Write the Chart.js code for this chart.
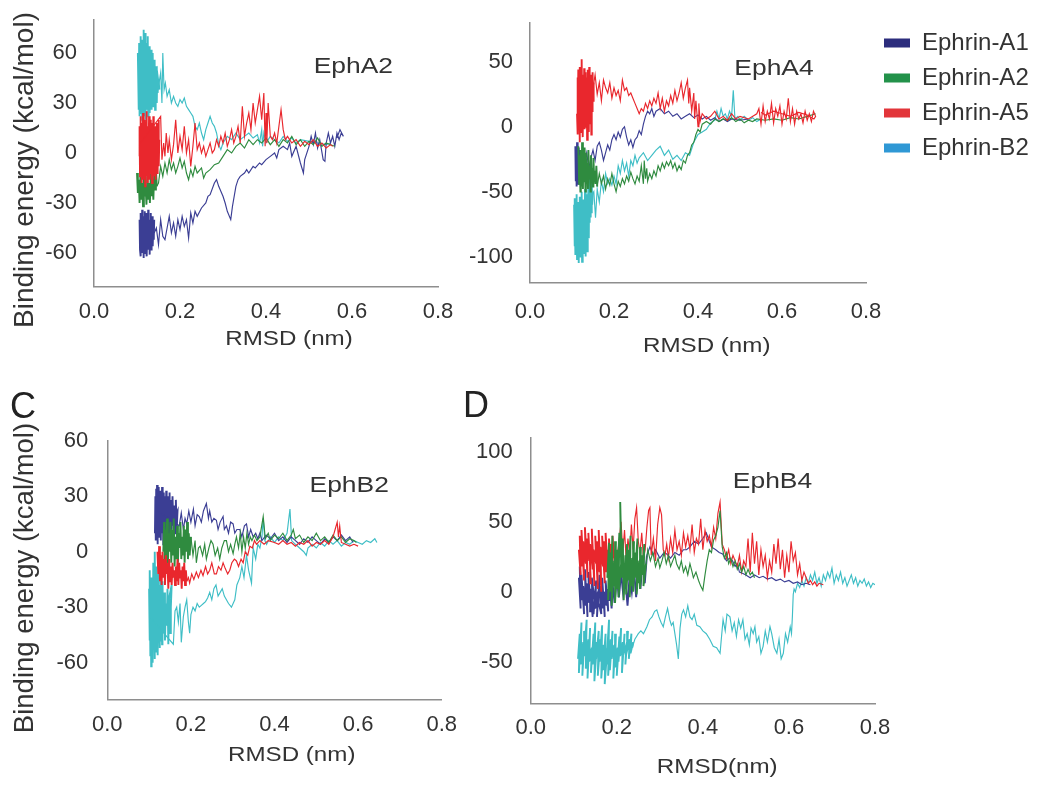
<!DOCTYPE html>
<html><head><meta charset="utf-8">
<script src="https://cdn.jsdelivr.net/npm/chart.js@4/dist/chart.umd.min.js"></script>
<style>
html,body{margin:0;padding:0;background:#fff;}
#fig{position:relative;width:1050px;height:787px;overflow:hidden;background:#fff;}
canvas{position:absolute;}
</style></head><body>
<div id="fig">
<canvas id="cA" width="480" height="400" style="left:0px;top:-30px"></canvas>
<canvas id="cB" width="610" height="400" style="left:440px;top:-30px"></canvas>
<canvas id="cC" width="480" height="427" style="left:0px;top:360px"></canvas>
<canvas id="cD" width="610" height="427" style="left:440px;top:360px"></canvas>
</div>
<script>
// ---------- categories / labels ----------
const panels = ['EphA2', 'EphA4', 'EphB2', 'EphB4'];
const ligands = ['Ephrin-A1', 'Ephrin-A2', 'Ephrin-A5', 'Ephrin-B2'];
const rmsdTicks = [0, 0.2, 0.4, 0.6, 0.8];
const energyTicksA2 = [-60, -30, 0, 30, 60];
const energyTicksA4 = [-100, -50, 0, 50];
const energyTicksB2 = [-60, -30, 0, 30, 60];
const energyTicksB4 = [-50, 0, 50, 100];

// ---------- series: [RMSD (nm), binding energy (kcal/mol)] ----------
// "core" = dense equilibrium cloud, "path" = dissociation trail
// EphA2
const EphA2_A1_core = [[0.106,-40],[0.107,-58],[0.108,-36],[0.109,-62],[0.11,-44],[0.111,-56],[0.112,-34],[0.113,-60],[0.114,-46],[0.115,-63],[0.116,-38],[0.117,-54],[0.118,-35],[0.119,-60],[0.12,-42],[0.121,-57],[0.122,-36],[0.123,-62],[0.124,-48],[0.125,-58],[0.126,-34],[0.127,-55],[0.128,-40],[0.129,-61],[0.13,-44],[0.131,-52],[0.132,-36],[0.133,-58],[0.134,-42],[0.135,-50],[0.136,-38],[0.137,-56],[0.138,-44],[0.139,-52],[0.14,-40],[0.136,-48],[0.128,-50],[0.12,-48],[0.112,-50],[0.118,-46],[0.126,-46],[0.134,-46],[0.14,-48]];
const EphA2_A1_path = [[0.145,-45],[0.15,-55],[0.155,-40],[0.16,-50],[0.165,-52],[0.17,-45],[0.175,-38],[0.18,-48],[0.185,-42],[0.19,-50],[0.195,-40],[0.2,-46],[0.205,-38],[0.21,-44],[0.215,-40],[0.22,-51],[0.225,-36],[0.23,-42],[0.235,-35],[0.24,-38],[0.25,-33],[0.26,-30],[0.265,-26],[0.27,-25],[0.28,-18],[0.285,-16],[0.29,-20],[0.3,-26],[0.305,-30],[0.31,-35],[0.318,-40],[0.322,-32],[0.33,-20],[0.335,-16],[0.34,-14],[0.35,-12],[0.355,-10],[0.36,-12],[0.37,-8],[0.375,-9],[0.385,-6],[0.39,-7],[0.4,-4],[0.41,-2],[0.42,0],[0.425,-3],[0.43,2],[0.44,4],[0.45,2],[0.455,6],[0.46,-2],[0.47,4],[0.48,-6],[0.487,-12],[0.49,-4],[0.5,4],[0.505,10],[0.51,5],[0.515,12],[0.52,3],[0.525,8],[0.533,-4],[0.537,-5],[0.54,6],[0.545,12],[0.55,6],[0.555,10],[0.56,4],[0.565,12],[0.57,8],[0.575,12],[0.58,10],[0.572,14],[0.565,9]];
const EphA2_A2_core = [[0.1,-12],[0.102,-24],[0.104,-16],[0.106,-30],[0.108,-14],[0.11,-28],[0.112,-18],[0.114,-32],[0.116,-15],[0.118,-26],[0.12,-20],[0.122,-31],[0.124,-14],[0.126,-28],[0.128,-18],[0.13,-30],[0.132,-12],[0.134,-26],[0.136,-16],[0.138,-28],[0.14,-12],[0.142,-22],[0.144,-10],[0.146,-20]];
const EphA2_A2_path = [[0.15,-18],[0.155,-8],[0.16,-14],[0.165,-6],[0.17,-12],[0.175,-4],[0.18,-10],[0.185,-6],[0.19,-12],[0.195,-8],[0.2,-3],[0.205,-9],[0.21,-5],[0.215,-12],[0.22,-16],[0.225,-10],[0.23,-14],[0.235,-8],[0.24,-12],[0.25,-9],[0.255,-15],[0.26,-12],[0.27,-10],[0.28,-7],[0.29,-6],[0.3,-2],[0.31,2],[0.32,0],[0.33,4],[0.34,6],[0.35,3],[0.36,8],[0.37,5],[0.38,8],[0.39,6],[0.4,9],[0.41,5],[0.42,8],[0.43,4],[0.44,8],[0.45,6],[0.46,10],[0.47,5],[0.48,8],[0.49,4],[0.5,7],[0.51,5],[0.52,9],[0.53,4],[0.54,6],[0.55,5],[0.56,4]];
const EphA2_A5_core = [[0.105,-2],[0.106,16],[0.107,-14],[0.108,22],[0.109,-8],[0.11,18],[0.111,-18],[0.112,12],[0.113,-4],[0.114,24],[0.115,-16],[0.116,14],[0.117,-10],[0.118,20],[0.119,-20],[0.12,10],[0.121,-6],[0.122,25],[0.123,-14],[0.124,16],[0.125,-18],[0.126,8],[0.127,-8],[0.128,22],[0.129,-16],[0.13,14],[0.131,-4],[0.132,20],[0.133,-12],[0.134,12],[0.135,-18],[0.136,18],[0.137,-6],[0.138,22],[0.139,-14],[0.14,10],[0.141,-10],[0.142,16],[0.143,-16],[0.144,6],[0.145,-6],[0.146,18],[0.147,-12],[0.148,12],[0.149,-4],[0.15,20],[0.151,-8],[0.152,8],[0.146,0],[0.138,4],[0.13,-2],[0.122,2],[0.114,0],[0.108,6]];
const EphA2_A5_path = [[0.155,22],[0.158,-4],[0.162,6],[0.165,-2],[0.168,12],[0.172,0],[0.175,8],[0.18,-4],[0.185,5],[0.19,20],[0.195,0],[0.2,10],[0.205,2],[0.21,16],[0.215,0],[0.22,8],[0.225,-8],[0.23,4],[0.235,18],[0.24,2],[0.245,6],[0.25,0],[0.255,4],[0.26,-2],[0.265,2],[0.27,6],[0.275,0],[0.28,2],[0.285,8],[0.29,4],[0.295,10],[0.3,6],[0.305,12],[0.31,4],[0.315,8],[0.32,14],[0.325,6],[0.33,10],[0.335,16],[0.34,6],[0.345,28],[0.35,10],[0.355,18],[0.36,24],[0.365,14],[0.37,30],[0.375,18],[0.38,26],[0.385,34],[0.39,20],[0.395,36],[0.398,4],[0.4,24],[0.402,6],[0.405,30],[0.41,10],[0.415,8],[0.42,12],[0.425,6],[0.43,16],[0.435,26],[0.44,14],[0.445,8],[0.45,10],[0.46,6],[0.47,8],[0.48,4],[0.49,7],[0.5,5],[0.51,8],[0.52,4],[0.53,6],[0.54,3],[0.55,5],[0.555,4]];
const EphA2_B2_core = [[0.102,60],[0.104,26],[0.105,66],[0.106,22],[0.107,58],[0.108,30],[0.109,70],[0.11,24],[0.111,62],[0.112,20],[0.113,68],[0.114,28],[0.115,74],[0.116,22],[0.117,64],[0.118,30],[0.119,72],[0.12,20],[0.121,60],[0.122,26],[0.123,66],[0.124,32],[0.125,70],[0.126,22],[0.127,58],[0.128,28],[0.129,64],[0.13,24],[0.131,56],[0.132,30],[0.133,62],[0.134,26],[0.135,54],[0.136,34],[0.137,60],[0.138,28],[0.139,50],[0.14,32],[0.141,56],[0.142,26],[0.143,48],[0.144,34],[0.145,52],[0.146,30],[0.147,46],[0.148,36],[0.15,44],[0.152,38],[0.146,50],[0.138,44],[0.13,48],[0.122,40],[0.114,46],[0.106,42],[0.11,52],[0.118,36],[0.126,44],[0.134,38],[0.142,42],[0.15,40]];
const EphA2_B2_path = [[0.155,48],[0.158,30],[0.16,60],[0.163,38],[0.166,42],[0.17,34],[0.175,38],[0.18,30],[0.185,34],[0.19,30],[0.195,28],[0.2,32],[0.205,30],[0.21,33],[0.215,28],[0.22,26],[0.225,24],[0.23,22],[0.235,16],[0.24,14],[0.245,18],[0.25,12],[0.255,8],[0.26,14],[0.265,18],[0.27,22],[0.275,18],[0.28,16],[0.285,12],[0.29,5],[0.295,2],[0.3,6],[0.31,10],[0.32,8],[0.33,12],[0.34,8],[0.35,10],[0.36,12],[0.37,9],[0.38,11],[0.385,6],[0.39,14],[0.392,4],[0.395,12],[0.4,6],[0.41,10],[0.42,8],[0.43,6],[0.44,10],[0.45,7],[0.46,9],[0.47,6],[0.48,8],[0.5,7],[0.52,6],[0.54,5],[0.55,6]];

// EphA4
const EphA4_A1_core = [[0.108,-15],[0.109,-42],[0.11,-20],[0.111,-46],[0.112,-12],[0.113,-38],[0.114,-24],[0.115,-44],[0.116,-16],[0.117,-40],[0.118,-26],[0.119,-44],[0.12,-18],[0.121,-36],[0.122,-28],[0.123,-42],[0.124,-22],[0.125,-34],[0.126,-30]];
const EphA4_A1_path = [[0.13,-28],[0.135,-20],[0.14,-32],[0.145,-24],[0.15,-18],[0.155,-26],[0.16,-15],[0.165,-12],[0.17,-18],[0.175,-26],[0.18,-20],[0.185,-14],[0.19,-18],[0.195,-10],[0.2,-6],[0.205,-10],[0.21,-4],[0.215,-8],[0.22,-2],[0.225,0],[0.23,-8],[0.235,-14],[0.24,-10],[0.245,-16],[0.25,-10],[0.255,-8],[0.26,-3],[0.265,-6],[0.27,2],[0.275,8],[0.28,12],[0.285,10],[0.29,14],[0.295,8],[0.3,12],[0.31,14],[0.32,10],[0.33,12],[0.34,8],[0.35,10],[0.36,6],[0.37,8],[0.38,10],[0.39,7],[0.4,9],[0.41,6],[0.42,8],[0.43,5],[0.44,7],[0.45,4],[0.46,6],[0.47,4],[0.48,6],[0.5,5],[0.52,6]];
const EphA4_A2_core = [[0.115,-15],[0.117,-44],[0.118,-22],[0.12,-50],[0.121,-18],[0.123,-46],[0.124,-12],[0.126,-48],[0.127,-24],[0.129,-42],[0.13,-16],[0.132,-50],[0.133,-20],[0.135,-44],[0.136,-28],[0.138,-48],[0.139,-18],[0.141,-40],[0.142,-30],[0.144,-50],[0.145,-22],[0.147,-38],[0.148,-32],[0.15,-46],[0.151,-24],[0.153,-42],[0.154,-34],[0.156,-44],[0.158,-30],[0.16,-46]];
const EphA4_A2_path = [[0.165,-36],[0.17,-44],[0.175,-38],[0.18,-48],[0.185,-40],[0.19,-45],[0.195,-36],[0.2,-44],[0.205,-50],[0.21,-42],[0.215,-46],[0.22,-40],[0.225,-44],[0.23,-38],[0.235,-42],[0.24,-35],[0.245,-40],[0.25,-44],[0.255,-38],[0.26,-42],[0.265,-30],[0.27,-44],[0.272,-26],[0.275,-40],[0.278,-32],[0.28,-42],[0.285,-36],[0.29,-40],[0.295,-34],[0.3,-38],[0.305,-30],[0.31,-34],[0.315,-28],[0.32,-32],[0.325,-27],[0.33,-30],[0.335,-26],[0.34,-32],[0.345,-28],[0.35,-34],[0.355,-30],[0.36,-33],[0.365,-26],[0.37,-28],[0.375,-22],[0.38,-20],[0.385,-14],[0.39,-12],[0.395,-6],[0.4,-2],[0.405,-4],[0.41,2],[0.42,4],[0.43,2],[0.44,6],[0.45,4],[0.46,6],[0.47,5],[0.48,7],[0.49,4],[0.5,6],[0.51,3],[0.52,5],[0.53,4],[0.54,6],[0.56,5],[0.58,6],[0.6,5],[0.62,7],[0.64,6],[0.66,8],[0.68,10]];
const EphA4_A5_core = [[0.112,10],[0.113,38],[0.114,-6],[0.115,44],[0.116,2],[0.117,30],[0.118,-12],[0.119,46],[0.12,6],[0.121,36],[0.122,-4],[0.123,52],[0.124,12],[0.125,40],[0.126,-8],[0.127,34],[0.128,8],[0.129,45],[0.13,-2],[0.131,28],[0.132,14],[0.133,42],[0.134,0],[0.135,38],[0.136,-10],[0.137,44],[0.138,10],[0.139,32],[0.14,-4],[0.141,46],[0.142,16],[0.143,36],[0.144,2],[0.145,40],[0.146,-6],[0.147,30],[0.148,12],[0.149,42],[0.15,20],[0.151,34],[0.152,24],[0.146,20],[0.138,26],[0.13,18],[0.122,24],[0.116,18],[0.124,28],[0.132,22],[0.14,30],[0.15,30]];
const EphA4_A5_path = [[0.155,40],[0.16,25],[0.165,34],[0.17,20],[0.175,36],[0.18,30],[0.185,26],[0.19,34],[0.195,22],[0.2,30],[0.205,24],[0.21,28],[0.215,20],[0.22,36],[0.225,28],[0.23,30],[0.235,24],[0.24,26],[0.245,22],[0.25,18],[0.255,14],[0.26,10],[0.265,14],[0.27,12],[0.275,18],[0.28,14],[0.285,20],[0.29,16],[0.295,22],[0.3,18],[0.305,26],[0.31,14],[0.315,22],[0.32,12],[0.325,20],[0.33,16],[0.335,24],[0.34,18],[0.345,28],[0.35,20],[0.355,26],[0.36,34],[0.365,22],[0.37,30],[0.375,36],[0.378,18],[0.38,30],[0.385,12],[0.39,26],[0.392,6],[0.395,20],[0.4,0],[0.402,18],[0.405,4],[0.41,10],[0.42,6],[0.43,8],[0.44,12],[0.45,6],[0.46,8],[0.47,5],[0.48,10],[0.49,6],[0.5,8],[0.52,6],[0.54,10],[0.545,14],[0.55,2],[0.555,16],[0.56,4],[0.565,12],[0.57,6],[0.575,18],[0.58,3],[0.585,14],[0.59,8],[0.595,16],[0.6,2],[0.605,12],[0.61,6],[0.615,22],[0.62,4],[0.625,14],[0.63,2],[0.635,12],[0.64,6],[0.645,10],[0.65,3],[0.655,12],[0.66,5],[0.665,10],[0.67,4],[0.675,12],[0.68,8],[0.676,6],[0.66,9],[0.64,11],[0.62,8],[0.6,10],[0.58,12],[0.56,9],[0.55,11]];
const EphA4_B2_core = [[0.105,-60],[0.106,-92],[0.107,-55],[0.108,-98],[0.109,-66],[0.11,-88],[0.111,-52],[0.112,-102],[0.113,-62],[0.114,-94],[0.115,-58],[0.116,-105],[0.117,-70],[0.118,-86],[0.119,-54],[0.12,-100],[0.121,-64],[0.122,-90],[0.123,-50],[0.124,-104],[0.125,-68],[0.126,-84],[0.127,-56],[0.128,-98],[0.129,-62],[0.13,-92],[0.131,-48],[0.132,-100],[0.133,-66],[0.134,-88],[0.135,-52],[0.136,-96],[0.137,-60],[0.138,-80],[0.139,-44],[0.14,-86],[0.141,-40],[0.142,-74],[0.143,-36],[0.144,-70],[0.145,-30],[0.146,-66],[0.147,-40],[0.148,-60],[0.15,-50],[0.142,-60],[0.134,-76],[0.126,-74],[0.118,-78],[0.11,-76],[0.114,-70],[0.122,-72],[0.13,-80],[0.138,-70],[0.146,-54]];
const EphA4_B2_path = [[0.152,-50],[0.156,-70],[0.16,-48],[0.165,-58],[0.17,-42],[0.175,-50],[0.18,-36],[0.185,-44],[0.19,-40],[0.195,-45],[0.2,-38],[0.205,-44],[0.21,-30],[0.215,-36],[0.22,-26],[0.225,-34],[0.23,-28],[0.235,-38],[0.24,-26],[0.245,-30],[0.25,-22],[0.255,-28],[0.26,-24],[0.27,-20],[0.28,-26],[0.29,-22],[0.3,-18],[0.31,-15],[0.32,-22],[0.33,-18],[0.34,-25],[0.35,-22],[0.36,-26],[0.37,-20],[0.38,-22],[0.39,-12],[0.4,-6],[0.41,-4],[0.42,-2],[0.43,3],[0.44,5],[0.445,12],[0.45,6],[0.455,14],[0.46,8],[0.465,10],[0.47,6],[0.475,12],[0.48,8],[0.484,28],[0.488,6],[0.495,8],[0.5,5],[0.51,8],[0.52,5],[0.53,7],[0.54,4],[0.55,6]];

// EphB2
const EphB2_A1_core = [[0.114,10],[0.115,30],[0.116,6],[0.117,34],[0.118,12],[0.119,36],[0.12,4],[0.121,28],[0.122,16],[0.123,35],[0.124,8],[0.125,26],[0.126,18],[0.127,33],[0.128,6],[0.129,30],[0.13,14],[0.131,35],[0.132,10],[0.133,24],[0.134,4],[0.135,32],[0.136,16],[0.137,30],[0.138,8],[0.139,22],[0.14,12],[0.141,33],[0.142,6],[0.143,28],[0.144,14],[0.145,30],[0.146,8],[0.147,26],[0.148,14],[0.149,32],[0.15,10],[0.152,28],[0.154,12],[0.156,30],[0.158,14],[0.16,25],[0.162,10],[0.164,28],[0.166,12],[0.168,22],[0.16,18],[0.15,20],[0.14,22],[0.13,20],[0.12,22]];
const EphB2_A1_path = [[0.172,14],[0.177,21],[0.182,12],[0.186,18],[0.19,15],[0.195,22],[0.2,16],[0.206,23],[0.21,14],[0.215,20],[0.22,19],[0.225,16],[0.23,22],[0.237,26],[0.242,18],[0.245,22],[0.25,16],[0.255,18],[0.261,17],[0.265,12],[0.27,16],[0.277,19],[0.28,12],[0.285,14],[0.29,10],[0.295,16],[0.301,15],[0.305,10],[0.31,12],[0.317,12],[0.322,8],[0.328,14],[0.333,15],[0.338,8],[0.343,12],[0.349,8],[0.355,10],[0.36,7],[0.365,10],[0.37,6],[0.38,9],[0.39,7],[0.4,10],[0.41,6],[0.42,8],[0.43,5],[0.44,8],[0.45,6],[0.46,4],[0.47,7],[0.48,5],[0.49,8],[0.5,6],[0.51,4],[0.52,7],[0.53,5],[0.54,8],[0.55,6],[0.56,9],[0.57,6],[0.58,8],[0.588,5]];
const EphB2_A2_core = [[0.134,0],[0.136,16],[0.137,-6],[0.139,12],[0.141,-4],[0.143,18],[0.145,-8],[0.147,10],[0.149,0],[0.151,16],[0.153,-6],[0.155,12],[0.157,-2],[0.159,18],[0.161,-8],[0.163,8],[0.165,-4],[0.167,14],[0.169,-6],[0.171,10],[0.173,2],[0.175,16],[0.177,-4],[0.179,8],[0.181,-2],[0.183,14],[0.185,-6],[0.187,12],[0.189,0],[0.191,16],[0.193,-4],[0.195,10],[0.197,-2],[0.2,8]];
const EphB2_A2_path = [[0.205,-2],[0.21,6],[0.213,-6],[0.218,2],[0.222,3],[0.228,-2],[0.233,4],[0.237,-4],[0.243,2],[0.248,6],[0.253,4],[0.258,-2],[0.264,2],[0.269,-4],[0.274,2],[0.28,6],[0.285,6],[0.29,0],[0.295,4],[0.301,-1],[0.305,4],[0.309,8],[0.314,2],[0.318,10],[0.322,0],[0.326,8],[0.33,2],[0.334,10],[0.338,4],[0.342,8],[0.346,6],[0.352,9],[0.358,6],[0.365,8],[0.373,19],[0.378,7],[0.385,10],[0.39,6],[0.4,9],[0.41,7],[0.42,10],[0.43,6],[0.44,9],[0.445,12],[0.45,7],[0.46,9],[0.47,5],[0.48,8],[0.49,6],[0.5,10],[0.51,6],[0.52,8],[0.53,5],[0.54,9],[0.55,6],[0.56,8],[0.57,5],[0.58,7],[0.59,6],[0.596,5]];
const EphB2_A5_core = [[0.12,0],[0.122,-12],[0.124,3],[0.126,-16],[0.128,-2],[0.13,-18],[0.132,0],[0.134,-14],[0.136,-4],[0.138,-18],[0.14,-2],[0.142,-12],[0.144,-6],[0.146,-20],[0.148,-4],[0.15,-16],[0.152,-8],[0.154,-18],[0.156,-6],[0.158,-14],[0.16,-10],[0.162,-18],[0.164,-8],[0.166,-16],[0.168,-4],[0.17,-18],[0.172,-6],[0.174,-14],[0.176,-10],[0.178,-20],[0.18,-8],[0.182,-16],[0.184,-6],[0.186,-18],[0.188,-10],[0.19,-16]];
const EphB2_A5_path = [[0.194,-14],[0.197,-17],[0.202,-12],[0.207,-15],[0.213,-11],[0.218,-14],[0.224,-10],[0.229,-13],[0.235,-8],[0.24,-12],[0.245,-10],[0.25,-6],[0.256,-12],[0.261,-12],[0.266,-8],[0.272,-10],[0.277,-6],[0.282,-9],[0.288,-12],[0.293,-10],[0.298,-6],[0.304,-4],[0.309,-5],[0.314,-8],[0.32,-4],[0.325,-6],[0.33,0],[0.336,-2],[0.341,3],[0.347,2],[0.352,6],[0.357,4],[0.365,6],[0.375,4],[0.385,6],[0.4,5],[0.41,4],[0.42,6],[0.43,4],[0.44,5],[0.45,3],[0.46,5],[0.47,4],[0.48,6],[0.49,3],[0.5,5],[0.51,4],[0.52,6],[0.53,4],[0.54,8],[0.545,12],[0.55,16],[0.553,8],[0.556,14],[0.56,5],[0.57,4],[0.58,3],[0.59,4],[0.6,3]];
const EphB2_B2_core = [[0.1,-20],[0.101,-48],[0.102,-10],[0.103,-56],[0.104,-26],[0.105,-62],[0.106,-14],[0.107,-52],[0.108,-32],[0.109,-60],[0.11,-6],[0.111,-44],[0.112,-20],[0.113,-58],[0.114,0],[0.115,-38],[0.116,-14],[0.117,-54],[0.118,-8],[0.119,-46],[0.12,-24],[0.121,-56],[0.122,-12],[0.123,-40],[0.124,-28],[0.125,-52],[0.126,-18],[0.127,-48],[0.128,-10],[0.129,-36],[0.13,-26],[0.131,-50],[0.132,-16],[0.134,-44],[0.136,-22],[0.138,-48],[0.14,-28],[0.142,-40],[0.144,-20],[0.146,-50],[0.148,-24],[0.15,-44],[0.152,-30],[0.154,-18],[0.14,-34],[0.13,-38],[0.12,-34],[0.11,-30],[0.105,-36]];
const EphB2_B2_path = [[0.158,-50],[0.162,-32],[0.166,-30],[0.17,-38],[0.174,-28],[0.177,-49],[0.182,-35],[0.186,-30],[0.19,-26],[0.194,-38],[0.197,-44],[0.2,-34],[0.205,-30],[0.21,-32],[0.215,-28],[0.22,-30],[0.225,-29],[0.23,-28],[0.235,-27],[0.24,-25],[0.245,-22],[0.25,-26],[0.255,-20],[0.26,-18],[0.265,-24],[0.27,-22],[0.275,-20],[0.28,-24],[0.29,-28],[0.297,-30],[0.305,-26],[0.31,-18],[0.317,-14],[0.322,-8],[0.327,-14],[0.333,-2],[0.338,-10],[0.345,-17],[0.349,2],[0.355,-4],[0.36,4],[0.365,2],[0.37,8],[0.373,18],[0.377,6],[0.381,4],[0.39,8],[0.4,5],[0.41,8],[0.42,6],[0.43,10],[0.437,23],[0.441,6],[0.45,4],[0.46,2],[0.47,0],[0.476,-2],[0.48,2],[0.49,4],[0.5,2],[0.51,5],[0.52,3],[0.53,6],[0.54,4],[0.55,6],[0.56,3],[0.57,5],[0.58,4],[0.59,6],[0.6,5],[0.61,4],[0.62,6],[0.63,5],[0.64,7],[0.645,5]];

// EphB4
const EphB4_A1_core = [[0.112,10],[0.116,-12],[0.114,18],[0.12,-6],[0.118,12],[0.124,-16],[0.122,4],[0.128,-10],[0.126,16],[0.132,-18],[0.13,6],[0.136,-8],[0.134,14],[0.14,-14],[0.138,2],[0.144,-18],[0.142,10],[0.148,-6],[0.146,-16],[0.152,8],[0.15,-12],[0.156,0],[0.154,-18],[0.16,12],[0.158,-8],[0.164,-16],[0.162,4],[0.168,-12],[0.166,10],[0.172,-18],[0.17,0],[0.176,-10],[0.174,8],[0.18,-14],[0.178,2],[0.184,-6],[0.182,12],[0.188,-12],[0.19,6],[0.195,-8],[0.2,10],[0.205,-4],[0.21,14],[0.215,-2],[0.22,8],[0.225,-10],[0.23,12],[0.235,0],[0.24,16],[0.245,-4],[0.25,20],[0.255,2],[0.26,24],[0.265,6],[0.27,26]];
const EphB4_A1_path = [[0.277,32],[0.285,26],[0.29,30],[0.3,24],[0.31,28],[0.316,27],[0.325,24],[0.335,28],[0.345,26],[0.355,30],[0.362,30],[0.37,32],[0.38,36],[0.39,34],[0.4,38],[0.408,42],[0.415,36],[0.42,32],[0.43,30],[0.438,28],[0.446,27],[0.455,22],[0.462,24],[0.469,22],[0.475,18],[0.48,20],[0.485,14],[0.493,13],[0.5,12],[0.51,10],[0.52,12],[0.531,10],[0.54,11],[0.55,9],[0.56,10],[0.57,8],[0.58,9],[0.59,7],[0.6,8],[0.61,6],[0.62,7],[0.63,5],[0.64,6],[0.65,5]];
const EphB4_A2_core = [[0.178,10],[0.182,35],[0.18,-6],[0.186,28],[0.184,0],[0.19,40],[0.188,-10],[0.194,22],[0.192,4],[0.198,36],[0.196,-8],[0.202,30],[0.2,2],[0.206,42],[0.204,-4],[0.21,20],[0.208,64],[0.212,10],[0.214,38],[0.216,-6],[0.22,26],[0.218,6],[0.224,34],[0.222,-2],[0.228,30],[0.226,8],[0.232,40],[0.23,-4],[0.236,24],[0.234,4],[0.24,36],[0.238,0],[0.244,28],[0.242,10],[0.248,38],[0.246,-2],[0.252,22],[0.25,6],[0.256,32],[0.254,2],[0.26,26],[0.258,12],[0.264,34],[0.262,4],[0.268,20]];
const EphB4_A2_path = [[0.272,30],[0.278,22],[0.284,28],[0.29,18],[0.296,24],[0.3,17],[0.305,22],[0.31,28],[0.315,20],[0.32,26],[0.325,18],[0.33,22],[0.335,26],[0.339,20],[0.345,16],[0.35,22],[0.355,14],[0.36,18],[0.365,12],[0.37,20],[0.375,14],[0.378,10],[0.384,14],[0.39,8],[0.395,4],[0.4,1],[0.405,12],[0.41,22],[0.415,30],[0.42,28],[0.425,37],[0.43,40],[0.435,46],[0.44,58],[0.445,32],[0.45,24],[0.455,28],[0.46,20],[0.465,24],[0.47,18],[0.475,22],[0.48,16],[0.485,20],[0.49,14],[0.495,18],[0.5,12],[0.505,16],[0.51,12],[0.515,14],[0.52,10]];
const EphB4_A5_core = [[0.112,30],[0.116,12],[0.114,40],[0.12,18],[0.118,44],[0.124,8],[0.122,36],[0.128,20],[0.126,46],[0.132,10],[0.13,38],[0.136,22],[0.134,42],[0.14,6],[0.138,34],[0.144,16],[0.142,45],[0.148,4],[0.146,30],[0.152,20],[0.15,40],[0.156,2],[0.154,36],[0.16,14],[0.158,44],[0.164,0],[0.162,32],[0.168,18],[0.166,40],[0.172,6],[0.17,36],[0.176,14],[0.174,42],[0.18,10],[0.178,30],[0.184,20],[0.182,38],[0.188,8],[0.186,34],[0.192,24],[0.19,40],[0.196,16],[0.194,30],[0.2,22]];
const EphB4_A5_path = [[0.205,35],[0.21,50],[0.214,28],[0.218,44],[0.222,22],[0.226,38],[0.23,26],[0.234,48],[0.238,30],[0.242,52],[0.246,60],[0.25,36],[0.254,28],[0.258,42],[0.262,24],[0.266,30],[0.27,46],[0.274,58],[0.277,60],[0.28,26],[0.285,38],[0.29,22],[0.295,48],[0.3,60],[0.304,55],[0.308,30],[0.312,26],[0.316,34],[0.32,24],[0.325,38],[0.33,28],[0.335,44],[0.34,30],[0.345,36],[0.35,26],[0.355,42],[0.36,32],[0.365,40],[0.37,30],[0.375,48],[0.38,28],[0.385,38],[0.39,34],[0.395,52],[0.4,30],[0.405,44],[0.41,36],[0.415,40],[0.42,32],[0.425,46],[0.43,38],[0.435,56],[0.44,64],[0.445,34],[0.45,30],[0.455,24],[0.46,30],[0.465,20],[0.47,26],[0.475,22],[0.48,18],[0.485,26],[0.49,14],[0.495,22],[0.5,18],[0.505,38],[0.51,14],[0.515,42],[0.52,20],[0.525,36],[0.53,12],[0.535,30],[0.54,18],[0.545,26],[0.55,10],[0.555,22],[0.56,14],[0.565,34],[0.57,20],[0.575,38],[0.58,16],[0.585,30],[0.59,10],[0.595,26],[0.6,14],[0.605,36],[0.61,22],[0.615,28],[0.62,12],[0.625,20],[0.63,8],[0.635,14],[0.64,10],[0.645,6],[0.65,8],[0.655,5],[0.66,7],[0.665,4],[0.67,6],[0.68,5]];
const EphB4_B2_core = [[0.11,-48],[0.114,-30],[0.112,-58],[0.118,-22],[0.116,-52],[0.122,-36],[0.12,-60],[0.126,-28],[0.124,-46],[0.13,-20],[0.128,-55],[0.134,-34],[0.132,-62],[0.138,-26],[0.136,-50],[0.142,-40],[0.14,-58],[0.146,-30],[0.144,-52],[0.15,-22],[0.148,-64],[0.154,-36],[0.152,-48],[0.158,-28],[0.156,-60],[0.162,-34],[0.16,-50],[0.166,-24],[0.164,-62],[0.17,-38],[0.168,-56],[0.174,-30],[0.172,-66],[0.178,-40],[0.176,-52],[0.182,-20],[0.18,-60],[0.186,-34],[0.184,-56],[0.19,-28],[0.188,-48],[0.194,-38],[0.192,-62],[0.198,-30],[0.196,-54],[0.202,-40],[0.2,-60],[0.206,-32],[0.204,-50],[0.21,-26],[0.208,-46],[0.214,-36],[0.212,-58],[0.218,-30],[0.216,-44],[0.222,-38],[0.22,-52],[0.226,-28],[0.224,-42],[0.23,-34],[0.228,-48],[0.234,-30],[0.232,-44],[0.238,-36],[0.236,-40]];
const EphB4_B2_path = [[0.242,-34],[0.246,-32],[0.25,-30],[0.256,-28],[0.262,-30],[0.27,-25],[0.276,-20],[0.282,-18],[0.288,-14],[0.293,-13],[0.298,-18],[0.303,-22],[0.308,-25],[0.313,-18],[0.318,-12],[0.323,-20],[0.327,-24],[0.331,-22],[0.335,-30],[0.339,-38],[0.343,-48],[0.347,-26],[0.351,-16],[0.355,-13],[0.36,-18],[0.365,-10],[0.37,-18],[0.375,-20],[0.38,-16],[0.386,-24],[0.393,-25],[0.4,-28],[0.408,-30],[0.416,-34],[0.424,-39],[0.432,-40],[0.44,-44],[0.444,-30],[0.447,-20],[0.452,-28],[0.456,-16],[0.463,-18],[0.468,-28],[0.473,-22],[0.478,-32],[0.483,-20],[0.488,-26],[0.493,-20],[0.498,-34],[0.503,-30],[0.508,-38],[0.512,-26],[0.517,-30],[0.521,-25],[0.525,-36],[0.53,-32],[0.535,-44],[0.54,-39],[0.545,-28],[0.55,-36],[0.556,-25],[0.56,-30],[0.566,-40],[0.572,-44],[0.577,-34],[0.582,-48],[0.587,-44],[0.592,-30],[0.597,-36],[0.603,-25],[0.606,-30],[0.608,-18],[0.61,-2],[0.612,2],[0.615,0],[0.62,6],[0.625,3],[0.63,8],[0.635,4],[0.64,10],[0.645,6],[0.65,12],[0.655,8],[0.66,14],[0.665,6],[0.67,10],[0.675,4],[0.68,12],[0.685,8],[0.69,14],[0.695,10],[0.7,17],[0.705,6],[0.71,12],[0.715,8],[0.72,14],[0.725,6],[0.73,10],[0.735,4],[0.74,8],[0.745,12],[0.75,6],[0.755,10],[0.76,4],[0.765,8],[0.77,6],[0.775,9],[0.78,4],[0.785,7],[0.79,3],[0.795,6],[0.8,5]];

// ---------- styling ----------
const FONT = "'Liberation Sans', Arial, Helvetica, sans-serif";
const lineColors = ['#3b3e94', '#2f8b3f', '#e9272d', '#3fbec6'];
const legendColors = ['#2c2d7d', '#23924a', '#e2353a', '#2f98d5'];
const AXIS = '#8e8e8e';
const TXT = '#333333';

const textPlugin = {
  id: 'panelText',
  afterDraw(chart, args, opts) {
    const ctx = chart.ctx;
    (opts.items || []).forEach(it => {
      ctx.save();
      ctx.font = it.size + 'px ' + FONT;
      ctx.fillStyle = it.color || TXT;
      ctx.textAlign = it.align || 'center';
      ctx.textBaseline = 'alphabetic';
      ctx.translate(it.x, it.y);
      if (it.rotate) ctx.rotate(it.rotate);
      if (it.stretch) ctx.scale(it.stretch, 1);
      ctx.fillText(it.text, 0, 0);
      ctx.restore();
    });
  }
};
// places the (non-layout) chartArea legend box beside the plot
const legendPlace = {
  id: 'legendPlace',
  afterLayout(chart, args, opts) {
    const lg = chart.legend;
    if (!lg || opts.left === undefined) return;
    const w = lg.width, h = lg.height;
    lg.left = opts.left; lg.right = opts.left + w;
    lg.top = opts.top; lg.bottom = opts.top + h;
  }
};

function makePanel(id, spec) {
  const W = spec.W, H = spec.H, a = spec.area;
  const datasets = spec.series.map((s, i) => {
    const nCore = s[0].length;
    return {
      label: ligands[i],
      data: s[0].concat(s[1]).map(p => ({x: p[0], y: p[1]})),
      showLine: true,
      borderColor: lineColors[i],
      backgroundColor: legendColors[i],
      borderWidth: 1.15,
      segment: {borderWidth: c => (c.p1DataIndex < nCore ? 1.9 : 1.15)},
      pointRadius: 0,
      tension: 0,
      fill: false,
      order: spec.order[i]
    };
  });
  const tickFont = {size: 22, family: FONT};
  return new Chart(document.getElementById(id), {
    type: 'scatter',
    data: {datasets},
    plugins: [textPlugin, legendPlace],
    options: {
      responsive: false, animation: false, devicePixelRatio: 1, events: [],
      layout: {padding: {left: 0, top: a.t, right: W - a.r, bottom: 10}},
      plugins: {
        tooltip: {enabled: false},
        legend: {
          display: !!spec.legend, position: 'chartArea', align: 'start',
          labels: {
            font: {size: 24, family: FONT}, color: TXT,
            boxWidth: 26, boxHeight: 9, padding: 11,
            generateLabels: () => ligands.map((t, i) => ({
              text: t, fillStyle: legendColors[i], strokeStyle: legendColors[i],
              lineWidth: 0, hidden: false, datasetIndex: i, fontColor: TXT
            }))
          }
        },
        legendPlace: spec.legend ? {left: spec.legend.left, top: spec.legend.top} : {},
        panelText: {items: spec.texts}
      },
      scales: {
        x: {
          type: 'linear', min: 0, max: 0.8,
          afterBuildTicks: s => { s.ticks = rmsdTicks.map(v => ({value: v})); },
          afterFit: s => { s.height = H - a.b - 10; },
          grid: {display: false, drawTicks: false},
          border: {display: true, color: AXIS, width: 1.5},
          ticks: {padding: spec.xPad, font: tickFont, color: TXT, maxRotation: 0, autoSkip: false,
                  callback: v => Number(v).toFixed(1)}
        },
        y: {
          type: 'linear', min: spec.yMin, max: spec.yMax,
          afterBuildTicks: s => { s.ticks = spec.yTicks.map(v => ({value: v})); },
          afterFit: s => { s.width = a.l; },
          grid: {display: false, drawTicks: false},
          border: {display: true, color: AXIS, width: 1.5},
          ticks: {padding: spec.yPad, font: tickFont, color: TXT, autoSkip: false,
                  callback: v => String(v)}
        }
      }
    }
  });
}

const YTITLE = 'Binding energy (kcal/mol)';

makePanel('cA', {
  W: 480, H: 400, area: {l: 94, r: 438, t: 49.7, b: 316.3},
  series: [[EphA2_A1_core, EphA2_A1_path], [EphA2_A2_core, EphA2_A2_path], [EphA2_A5_core, EphA2_A5_path], [EphA2_B2_core, EphA2_B2_path]],
  order: [2, 1, 0, 3],
  yMin: -80, yMax: 80, yTicks: energyTicksA2, xPad: 12.8, yPad: 17,
  texts: [
    {text: panels[0], x: 353.3, y: 103.3, size: 22, stretch: 1.2},
    {text: 'RMSD (nm)', x: 289, y: 375, size: 21, stretch: 1.15},
    {text: YTITLE, x: 33.3, y: 200, size: 28, rotate: -Math.PI / 2}
  ]
});
makePanel('cB', {
  W: 610, H: 400, area: {l: 90, r: 426, t: 52.9, b: 312.5},
  series: [[EphA4_A1_core, EphA4_A1_path], [EphA4_A2_core, EphA4_A2_path], [EphA4_A5_core, EphA4_A5_path], [EphA4_B2_core, EphA4_B2_path]],
  order: [2, 1, 0, 3],
  yMin: -120, yMax: 80, yTicks: energyTicksA4, xPad: 16.3, yPad: 17,
  legend: {left: 433, top: 50},
  texts: [
    {text: panels[1], x: 334, y: 105, size: 22, stretch: 1.2},
    {text: 'RMSD (nm)', x: 266.7, y: 382, size: 21, stretch: 1.15}
  ]
});
makePanel('cC', {
  W: 480, H: 427, area: {l: 107.3, r: 441.7, t: 80.7, b: 339.7},
  series: [[EphB2_A1_core, EphB2_A1_path], [EphB2_A2_core, EphB2_A2_path], [EphB2_A5_core, EphB2_A5_path], [EphB2_B2_core, EphB2_B2_path]],
  order: [2, 1, 0, 3],
  yMin: -80, yMax: 60, yTicks: energyTicksB2, xPad: 12.1, yPad: 19,
  texts: [
    {text: 'C', x: 10, y: 58, size: 36, align: 'left', color: '#222'},
    {text: panels[2], x: 349.2, y: 131.7, size: 22, stretch: 1.2},
    {text: 'RMSD (nm)', x: 291.7, y: 401, size: 21, stretch: 1.15},
    {text: YTITLE, x: 33, y: 218, size: 27.5, rotate: -Math.PI / 2}
  ]
});
makePanel('cD', {
  W: 610, H: 427, area: {l: 90.7, r: 435, t: 77.7, b: 343.7},
  series: [[EphB4_A1_core, EphB4_A1_path], [EphB4_A2_core, EphB4_A2_path], [EphB4_A5_core, EphB4_A5_path], [EphB4_B2_core, EphB4_B2_path]],
  order: [2, 0, 1, 3],
  yMin: -80, yMax: 110, yTicks: energyTicksB4, xPad: 11.1, yPad: 18,
  texts: [
    {text: 'D', x: 23, y: 57, size: 36, align: 'left', color: '#222'},
    {text: panels[3], x: 332.5, y: 128.3, size: 22, stretch: 1.2},
    {text: 'RMSD(nm)', x: 277.2, y: 413, size: 21, stretch: 1.15}
  ]
});
</script>
</body></html>
